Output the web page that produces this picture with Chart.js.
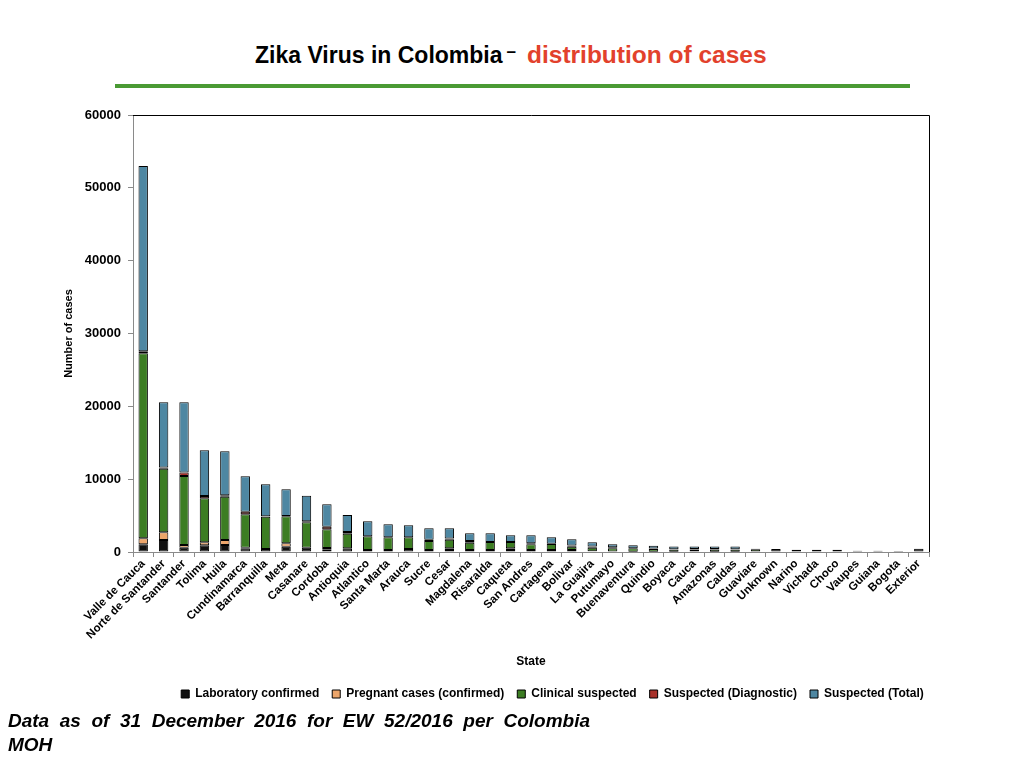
<!DOCTYPE html>
<html>
<head>
<meta charset="utf-8">
<script src="https://cdn.jsdelivr.net/npm/chart.js@4.4.0/dist/chart.umd.min.js"></script>
<style>
  html, body { margin: 0; padding: 0; background: #fff; }
  body { width: 1024px; height: 768px; position: relative; overflow: hidden; font-family: "Liberation Sans", Arial, sans-serif; }
  #wrap { position: absolute; left: 0; top: 0; width: 1024px; height: 768px; }
  #title { position: absolute; left: 255px; top: 40px; line-height: 30px; font-weight: bold; font-size: 23px; white-space: nowrap; }
  #title .dash { font-size: 17px; position: relative; top: -6px; margin: 0 11px 0 4px; }
  #title .red { color: #e2412c; font-size: 24.5px; }
  #rule { position: absolute; left: 115px; top: 84px; width: 795px; height: 4px; background: #4a9a34; }
  .note { position: absolute; left: 8px; font: italic bold 19px "Liberation Sans", Arial, sans-serif; line-height: 24px; white-space: nowrap; }
  #note1 { top: 709px; width: 582px; text-align: justify; text-align-last: justify; }
  #note2 { top: 733px; }
</style>
</head>
<body>
<div id="title">Zika Virus in Colombia<span class="dash">–</span><span class="red">distribution of cases</span></div>
<div id="rule"></div>
<div id="wrap"><canvas id="chart" width="1024" height="768"></canvas></div>
<div class="note" id="note1">Data as of 31 December 2016 for EW 52/2016 per Colombia</div>
<div class="note" id="note2">MOH</div>
<script>
// data
var states = ["Valle de Cauca", "Norte de Santander", "Santander", "Tolima", "Huila", "Cundinamarca",
    "Barranquilla", "Meta", "Casanare", "Cordoba", "Antioquia", "Atlantico", "Santa Marta", "Arauca",
    "Sucre", "Cesar", "Magdalena", "Risaralda", "Caqueta", "San Andres", "Cartagena", "Bolivar",
    "La Guajira", "Putumayo", "Buenaventura", "Quindio", "Boyaca", "Cauca", "Amazonas", "Caldas",
    "Guaviare", "Unknown", "Narino", "Vichada", "Choco", "Vaupes", "Guiana", "Bogota", "Exterior"];

var labConfirmed = [1050, 1650, 590, 920, 960, 500, 420, 730, 590, 300, 500, 260, 260, 400,
    270, 270, 270, 270, 270, 270, 270, 270, 120, 60, 30, 40, 40, 60, 40, 30,
    60, 420, 320, 300, 300, 170, 170, 150, 450];
var pregnant = [830, 1050, 370, 410, 690, 90, 0, 460, 0, 250, 0, 0, 0, 0,
    0, 240, 0, 0, 240, 0, 0, 0, 0, 0, 0, 0, 0, 0, 0, 0,
    0, 0, 0, 0, 0, 0, 0, 0, 0];
var clinical = [25400, 8740, 9480, 6040, 5950, 4580, 4420, 3710, 3490, 2570, 2020, 1890, 1750, 1610,
    1240, 1180, 1010, 1100, 860, 780, 830, 460, 480, 450, 480, 380, 300, 300, 300, 320,
    330, 0, 0, 0, 0, 0, 0, 0, 0];
var diagnostic = [270, 160, 460, 320, 180, 360, 60, 40, 150, 360, 230, 20, 20, 20,
    170, 160, 230, 20, 20, 160, 20, 160, 150, 150, 20, 50, 50, 60, 60, 40,
    20, 0, 0, 0, 0, 0, 0, 0, 0];
var suspectedTotal = [25450, 8950, 9650, 6270, 6040, 4860, 4390, 3660, 3510, 3070, 2330, 2040, 1770, 1640,
    1570, 1400, 1050, 1170, 900, 1080, 890, 850, 580, 390, 390, 380, 360, 330, 350, 360,
    40, 0, 0, 0, 0, 0, 0, 0, 0];

var yTicks = [0, 10000, 20000, 30000, 40000, 50000, 60000];

var LEGEND_SHIFT = 88;

var boldFont = function (size) {
    return { family: "'Liberation Sans', Arial, sans-serif", size: size, weight: "bold" };
};

// black frame on top and right of the plot
var framePlugin = {
    id: "frame",
    afterDraw: function (chart) {
        var a = chart.chartArea, ctx = chart.ctx;
        ctx.save();
        ctx.strokeStyle = "#000";
        ctx.lineWidth = 1;
        ctx.beginPath();
        ctx.moveTo(a.left, a.top + 0.5);
        ctx.lineTo(a.right + 0.5, a.top + 0.5);
        ctx.lineTo(a.right + 0.5, a.bottom);
        ctx.stroke();
        ctx.restore();
    }
};

// move the legend row to the right like in the picture
var legendShift = {
    id: "legendShift",
    afterLayout: function (chart) {
        chart.legend.left += LEGEND_SHIFT;
        chart.legend.right += LEGEND_SHIFT;
    }
};

function ds(label, data, color) {
    return {
        label: label,
        data: data,
        backgroundColor: color,
        borderColor: "#000",
        borderWidth: 1,
        borderSkipped: false,
        categoryPercentage: 1.0,
        barPercentage: 0.46
    };
}

new Chart("chart", {
    type: "bar",
    data: {
        labels: states,
        datasets: [
            ds("Laboratory confirmed", labConfirmed, "#111111"),
            ds("Pregnant cases (confirmed)", pregnant, "#eca56a"),
            ds("Clinical suspected", clinical, "#3c7d23"),
            ds("Suspected (Diagnostic)", diagnostic, "#a8312a"),
            ds("Suspected (Total)", suspectedTotal, "#4e87a2")
        ]
    },
    options: {
        responsive: false,
        animation: false,
        layout: { padding: { left: 0, right: 95, top: 115, bottom: 58 } },
        plugins: {
            tooltip: { enabled: false },
            legend: {
                position: "bottom",
                labels: {
                    boxWidth: 8,
                    boxHeight: 8,
                    padding: 13,
                    color: "#000",
                    font: boldFont(12)
                }
            }
        },
        scales: {
            x: {
                stacked: true,
                grid: { offset: true, drawOnChartArea: false, color: "#8a8a8a", tickLength: 5 },
                border: { color: "#8a8a8a" },
                ticks: { color: "#000", font: boldFont(11.5), minRotation: 45, maxRotation: 45, autoSkip: false, padding: 0 },
                title: { display: true, text: "State", color: "#000", font: boldFont(12), padding: { top: 0, bottom: 6 } },
                afterFit: function (s) { s.height = 123; }
            },
            y: {
                stacked: true,
                min: 0,
                max: 60000,
                afterBuildTicks: function (s) { s.ticks = yTicks.map(function (v) { return { value: v }; }); },
                grid: { drawOnChartArea: false, color: "#8a8a8a", tickLength: 5 },
                border: { color: "#8a8a8a" },
                ticks: { color: "#000", font: boldFont(13), padding: 7, callback: function (v) { return String(v); } },
                title: { display: true, text: "Number of cases", color: "#000", font: boldFont(11), padding: { top: 62, bottom: 0 } },
                afterFit: function (s) { s.width = 133; }
            }
        }
    },
    plugins: [framePlugin, legendShift]
});
</script>
</body>
</html>
